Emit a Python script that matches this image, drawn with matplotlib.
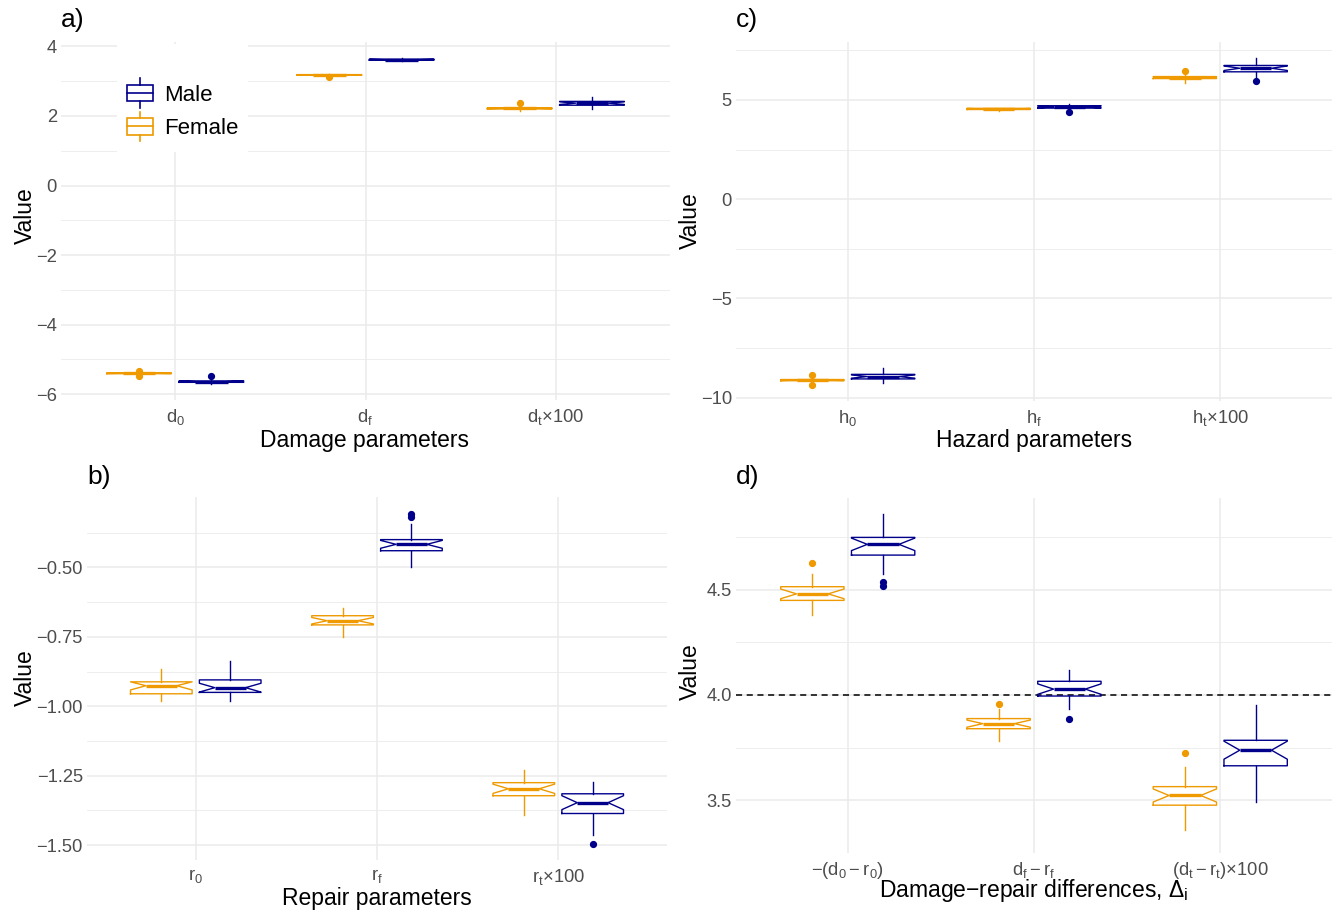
import matplotlib
matplotlib.use("Agg")
import matplotlib.pyplot as plt
import numpy as np
from matplotlib.legend_handler import HandlerBase
from matplotlib.patches import Rectangle
from matplotlib.lines import Line2D

plt.rcParams['font.family'] = ['Liberation Sans', 'DejaVu Sans']
plt.rcParams['mathtext.fontset'] = 'custom'
plt.rcParams['mathtext.rm'] = 'Liberation Sans'
plt.rcParams['mathtext.it'] = 'Liberation Sans:italic'

FEMALE = '#EE9A00'
MALE = '#00008B'
GRID = '#EBEBEB'
TICK = '#4D4D4D'
N_RUNS = 20   # used only for the notch height (ggplot: 1.58*IQR/sqrt(n))

# ---- a) damage parameters ----
cats_a = [r'$\mathregular{d_0}$', r'$\mathregular{d_f}$', r'$\mathregular{d_t}$×100']
fem_lo_a = [-5.42, 3.16, 2.15]
fem_q1_a = [-5.41, 3.17, 2.205]
fem_med_a = [-5.40, 3.18, 2.22]
fem_q3_a = [-5.39, 3.19, 2.235]
fem_hi_a = [-5.38, 3.20, 2.30]
fem_fl_a = [[-5.33, -5.49], [3.12], [2.36]]
mal_lo_a = [-5.70, 3.57, 2.19]
mal_q1_a = [-5.66, 3.605, 2.31]
mal_med_a = [-5.64, 3.62, 2.37]
mal_q3_a = [-5.62, 3.635, 2.42]
mal_hi_a = [-5.55, 3.66, 2.54]
mal_fl_a = [[-5.48], [], []]

# ---- b) repair parameters ----
cats_b = [r'$\mathregular{r_0}$', r'$\mathregular{r_f}$', r'$\mathregular{r_t}$×100']
fem_lo_b = [-0.98, -0.75, -1.39]
fem_q1_b = [-0.955, -0.707, -1.322]
fem_med_b = [-0.926, -0.692, -1.297]
fem_q3_b = [-0.912, -0.674, -1.275]
fem_hi_b = [-0.865, -0.646, -1.229]
fem_fl_b = [[], [], []]
mal_lo_b = [-0.98, -0.497, -1.465]
mal_q1_b = [-0.95, -0.44, -1.386]
mal_med_b = [-0.933, -0.417, -1.347]
mal_q3_b = [-0.905, -0.40, -1.315]
mal_hi_b = [-0.836, -0.342, -1.272]
mal_fl_b = [[], [-0.306, -0.32], [-1.494]]

# ---- c) hazard parameters ----
cats_c = [r'$\mathregular{h_0}$', r'$\mathregular{h_f}$', r'$\mathregular{h_t}$×100']
fem_lo_c = [-9.20, 4.45, 5.85]
fem_q1_c = [-9.15, 4.52, 6.08]
fem_med_c = [-9.12, 4.55, 6.13]
fem_q3_c = [-9.09, 4.58, 6.18]
fem_hi_c = [-9.05, 4.62, 6.33]
fem_fl_c = [[-8.85, -9.35], [], [6.48]]
mal_lo_c = [-9.28, 4.50, 6.17]
mal_q1_c = [-9.06, 4.59, 6.42]
mal_med_c = [-8.94, 4.65, 6.60]
mal_q3_c = [-8.83, 4.71, 6.74]
mal_hi_c = [-8.52, 4.78, 7.10]
mal_fl_c = [[], [4.40], [5.98]]

# ---- d) damage-repair differences ----
cats_d = [r'$\mathregular{-(d_0-r_0)}$', r'$\mathregular{d_f-r_f}$', r'$\mathregular{(d_t-r_t)}$×100']
fem_lo_d = [4.38, 3.78, 3.36]
fem_q1_d = [4.449, 3.84, 3.477]
fem_med_d = [4.48, 3.864, 3.523]
fem_q3_d = [4.514, 3.888, 3.565]
fem_hi_d = [4.575, 3.935, 3.66]
fem_fl_d = [[4.626], [3.958], [3.725]]
mal_lo_d = [4.575, 3.935, 3.49]
mal_q1_d = [4.664, 3.995, 3.664]
mal_med_d = [4.715, 4.028, 3.738]
mal_q3_d = [4.748, 4.065, 3.785]
mal_hi_d = [4.86, 4.12, 3.953]
mal_fl_d = [[4.537, 4.519], [3.888], []]

W, H = 1334, 911
fig = plt.figure(figsize=(W / 100, H / 100), dpi=100)


def px_axes(x0, x1, y0, y1):
    return fig.add_axes([x0 / W, 1 - y1 / H, (x1 - x0) / W, (y1 - y0) / H])


def stats_list(lo, q1, med, q3, hi, fl):
    out = []
    for i in range(len(med)):
        half = 1.58 * (q3[i] - q1[i]) / np.sqrt(N_RUNS)
        out.append(dict(whislo=lo[i], q1=q1[i], med=med[i], q3=q3[i], whishi=hi[i],
                        fliers=fl[i], cilo=max(q1[i], med[i] - half),
                        cihi=min(q3[i], med[i] + half)))
    return out


def draw_panel(ax, cats, fem, mal, major, minor):
    allv = []
    for stats, col, off in [(fem, FEMALE, -0.19), (mal, MALE, 0.19)]:
        bx = stats_list(*stats)
        for b in bx:
            allv += [b['whislo'], b['whishi']] + list(b['fliers'])
        ax.bxp(bx, positions=np.arange(len(cats)) + off, widths=0.34,
               shownotches=True, showcaps=False,
               boxprops=dict(color=col, lw=1.0),
               whiskerprops=dict(color=col, lw=1.0),
               medianprops=dict(color=col, lw=2.4),
               flierprops=dict(marker='o', markerfacecolor=col, markeredgecolor=col,
                               markersize=4.2, linestyle='none'))
    lo, hi = min(allv), max(allv)
    pad = 0.05 * (hi - lo)
    ax.set_ylim(lo - pad, hi + pad)
    ax.set_xlim(-0.6, len(cats) - 0.4)
    ax.set_xticks(np.arange(len(cats)))
    ax.set_xticklabels(cats)
    ax.set_yticks(major)
    ax.set_yticks(minor, minor=True)
    ax.grid(True, which='major', color=GRID, lw=1.1)
    ax.grid(True, which='minor', axis='y', color=GRID, lw=0.6)
    ax.set_axisbelow(True)
    ax.tick_params(which='both', length=0, labelcolor=TICK, labelsize=13.2)
    ax.tick_params(axis='y', pad=3)
    ax.tick_params(axis='x', pad=5)
    for s in ax.spines.values():
        s.set_visible(False)


ax_a = px_axes(61, 670, 42, 400)
draw_panel(ax_a, cats_a,
           (fem_lo_a, fem_q1_a, fem_med_a, fem_q3_a, fem_hi_a, fem_fl_a),
           (mal_lo_a, mal_q1_a, mal_med_a, mal_q3_a, mal_hi_a, mal_fl_a),
           [-6, -4, -2, 0, 2, 4], [-5, -3, -1, 1, 3])

ax_c = px_axes(736, 1332, 42, 401)
draw_panel(ax_c, cats_c,
           (fem_lo_c, fem_q1_c, fem_med_c, fem_q3_c, fem_hi_c, fem_fl_c),
           (mal_lo_c, mal_q1_c, mal_med_c, mal_q3_c, mal_hi_c, mal_fl_c),
           [-10, -5, 0, 5], [-7.5, -2.5, 2.5, 7.5])

ax_b = px_axes(87, 667, 497, 860)
draw_panel(ax_b, cats_b,
           (fem_lo_b, fem_q1_b, fem_med_b, fem_q3_b, fem_hi_b, fem_fl_b),
           (mal_lo_b, mal_q1_b, mal_med_b, mal_q3_b, mal_hi_b, mal_fl_b),
           [-1.5, -1.25, -1.0, -0.75, -0.5], [-1.375, -1.125, -0.875, -0.625, -0.375])

ax_d = px_axes(736, 1332, 498, 853)
ax_d.axhline(4.0, color='black', ls=(0, (4, 3)), lw=1.1, zorder=1.5)
draw_panel(ax_d, cats_d,
           (fem_lo_d, fem_q1_d, fem_med_d, fem_q3_d, fem_hi_d, fem_fl_d),
           (mal_lo_d, mal_q1_d, mal_med_d, mal_q3_d, mal_hi_d, mal_fl_d),
           [3.5, 4.0, 4.5], [3.25, 3.75, 4.25, 4.75])


def ftext(x, y, s, **kw):
    fig.text(x / W, 1 - y / H, s, **kw)


lab = dict(fontsize=16.5, color='black', ha='center', va='center')
ftext(25, 216, 'Value', rotation=90, **lab)
ftext(25, 678, 'Value', rotation=90, **lab)
ftext(690, 221, 'Value', rotation=90, **lab)
ftext(690, 672, 'Value', rotation=90, **lab)
ftext(365, 441, 'Damage parameters', **lab)
ftext(1034, 441, 'Hazard parameters', **lab)
ftext(377, 898, 'Repair parameters', **lab)
ftext(1034, 891, r'Damage−repair differences, $\mathregular{\Delta_i}$', **lab)

tag = dict(fontsize=19, color='black', ha='left', va='center')
ftext(61, 20, 'a)', **tag)
ftext(736, 20, 'c)', **tag)
ftext(87, 477, 'b)', **tag)
ftext(736, 477, 'd)', **tag)


class BoxKey(HandlerBase):
    def create_artists(self, legend, orig, xd, yd, w, h, fontsize, trans):
        col = orig.get_color()
        x0, y0 = -xd, -yd
        kw = dict(color=col, lw=1.2, transform=trans)
        box = Rectangle((x0, y0), w, h, fill=False, ec=col, lw=1.2, transform=trans)
        mid = Line2D([x0, x0 + w], [y0 + h / 2] * 2, **kw)
        top = Line2D([x0 + w / 2] * 2, [y0 + h, y0 + h * 1.4], **kw)
        bot = Line2D([x0 + w / 2] * 2, [y0 - h * 0.4, y0], **kw)
        return [box, mid, top, bot]


# white legend background that hides the grid, as in the original
ax_a.add_patch(Rectangle((117 / W, 1 - 152 / H), 131 / W, 108 / H, transform=fig.transFigure,
                         facecolor='white', edgecolor='none', zorder=1))

h_m = Line2D([], [], color=MALE)
h_f = Line2D([], [], color=FEMALE)
leg = ax_a.legend([h_m, h_f], ['Male', 'Female'], handler_map={Line2D: BoxKey()},
                  loc='upper left', bbox_to_anchor=(127 / W, 1 - 85 / H),
                  bbox_transform=fig.transFigure,
                  fontsize=16, frameon=False, handlelength=1.17, handleheight=0.76,
                  handletextpad=0.5, labelspacing=0.55, borderpad=0, borderaxespad=0)

fig.savefig('out.png', dpi=100)
